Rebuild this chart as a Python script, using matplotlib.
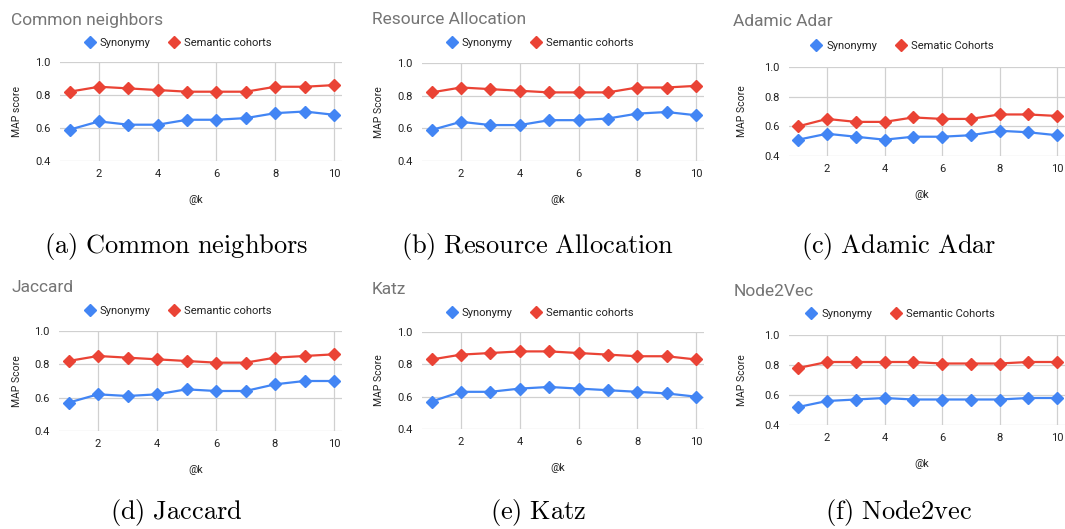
import matplotlib
matplotlib.use("Agg")
import matplotlib.pyplot as plt
from matplotlib.lines import Line2D

plt.rcParams['font.family'] = ['Roboto', 'DejaVu Sans']
plt.rcParams['mathtext.fontset'] = 'cm'

k = [1, 2, 3, 4, 5, 6, 7, 8, 9, 10]

titles = ["Common neighbors", "Resource Allocation", "Adamic Adar",
          "Jaccard", "Katz", "Node2Vec"]
captions = ["(a) Common neighbors", "(b) Resource Allocation", "(c) Adamic Adar",
            "(d) Jaccard", "(e) Katz", "(f) Node2vec"]
ylabels = ["MAP score", "MAP Score", "MAP Score", "MAP Score", "MAP Score", "MAP Score"]
syn_labels = ["Synonymy"] * 6
sem_labels = ["Semantic cohorts", "Semantic cohorts", "Sematic Cohorts",
              "Semantic cohorts", "Semantic cohorts", "Semantic Cohorts"]

syn_cn = [0.59, 0.64, 0.62, 0.62, 0.65, 0.65, 0.66, 0.69, 0.70, 0.68]
sem_cn = [0.82, 0.85, 0.84, 0.83, 0.82, 0.82, 0.82, 0.85, 0.85, 0.86]
syn_ra = [0.59, 0.64, 0.62, 0.62, 0.65, 0.65, 0.66, 0.69, 0.70, 0.68]
sem_ra = [0.82, 0.85, 0.84, 0.83, 0.82, 0.82, 0.82, 0.85, 0.85, 0.86]
syn_aa = [0.51, 0.55, 0.53, 0.51, 0.53, 0.53, 0.54, 0.57, 0.56, 0.54]
sem_aa = [0.60, 0.65, 0.63, 0.63, 0.66, 0.65, 0.65, 0.68, 0.68, 0.67]
syn_jc = [0.57, 0.62, 0.61, 0.62, 0.65, 0.64, 0.64, 0.68, 0.70, 0.70]
sem_jc = [0.82, 0.85, 0.84, 0.83, 0.82, 0.81, 0.81, 0.84, 0.85, 0.86]
syn_kz = [0.57, 0.63, 0.63, 0.65, 0.66, 0.65, 0.64, 0.63, 0.62, 0.60]
sem_kz = [0.83, 0.86, 0.87, 0.88, 0.88, 0.87, 0.86, 0.85, 0.85, 0.83]
syn_nv = [0.52, 0.56, 0.57, 0.58, 0.57, 0.57, 0.57, 0.57, 0.58, 0.58]
sem_nv = [0.78, 0.82, 0.82, 0.82, 0.82, 0.81, 0.81, 0.81, 0.82, 0.82]

syn_all = [syn_cn, syn_ra, syn_aa, syn_jc, syn_kz, syn_nv]
sem_all = [sem_cn, sem_ra, sem_aa, sem_jc, sem_kz, sem_nv]

yticks = [0.4, 0.6, 0.8, 1.0]
xticks = [2, 4, 6, 8, 10]

W, H = 1065, 529
fig = plt.figure(figsize=(W / 100, H / 100), dpi=100)

BLUE = '#4285F4'
RED = '#EA4335'
GRID = '#d0d0d0'
TXT = '#222222'
TITLE = '#757575'

# pixel layout: x of tick 2, x of tick 10, y of 1.0, y of 0.4, title pos, legend centre, caption centre
panels = [
    dict(x2=99, x10=334, yt=62, yb=161, tx=11, ty=20, lx=178, ly=43, cx=176, cy=247, ylx=17),
    dict(x2=461, x10=696, yt=63, yb=161, tx=372, ty=20, lx=540, ly=43, cx=538, cy=247, ylx=379),
    dict(x2=827, x10=1057, yt=67, yb=156, tx=733, ty=21, lx=902, ly=46, cx=899, cy=247, ylx=742),
    dict(x2=98, x10=334, yt=331, yb=431, tx=11, ty=288, lx=178, ly=311, cx=176, cy=512, ylx=17),
    dict(x2=461, x10=696, yt=332, yb=429, tx=372, ty=289, lx=540, ly=313, cx=538, cy=512, ylx=379),
    dict(x2=827, x10=1057, yt=335, yb=425, tx=734, ty=291, lx=900, ly=314, cx=899, cy=512, ylx=742),
]

XL, XR = 0.68, 10.28

for i, p in enumerate(panels):
    u = (p['x10'] - p['x2']) / 8.0
    left = p['x2'] - (2 - XL) * u
    right = p['x10'] + (XR - 10) * u
    ax = fig.add_axes([left / W, 1 - p['yb'] / H, (right - left) / W, (p['yb'] - p['yt']) / H])
    ax.set_xlim(XL, XR)
    ax.set_ylim(0.4, 1.0)
    ax.set_xticks(xticks)
    ax.set_yticks(yticks)
    ax.set_yticklabels([f"{v:.1f}" for v in yticks])
    for s in ax.spines.values():
        s.set_visible(False)
    ax.grid(True, color=GRID, linewidth=0.9)
    ax.set_axisbelow(True)
    ax.tick_params(length=0, labelsize=8, colors=TXT, pad=7)
    ax.tick_params(axis='x', pad=6)
    ax.plot(k, syn_all[i], color=BLUE, lw=1.6, marker='D', ms=6.5, clip_on=False, zorder=3)
    ax.plot(k, sem_all[i], color=RED, lw=1.6, marker='D', ms=6.5, clip_on=False, zorder=3)
    fig.text(p['tx'] / W, 1 - p['ty'] / H, titles[i], fontsize=12.5, color=TITLE,
             ha='left', va='center')
    fig.text(p['ylx'] / W, 1 - (p['yt'] + p['yb']) / 2 / H, ylabels[i], fontsize=7.5,
             color=TXT, rotation=90, ha='center', va='center')
    fig.text((left + right) / 2 / W - 0.005, 1 - (p['yb'] + 39) / H, "@k", fontsize=7.5,
             color=TXT, ha='center', va='center')
    handles = [Line2D([], [], color=BLUE, marker='D', ms=6.5, ls='none'),
               Line2D([], [], color=RED, marker='D', ms=6.5, ls='none')]
    ax.legend(handles, [syn_labels[i], sem_labels[i]], loc='center', ncol=2,
              bbox_to_anchor=(p['lx'] / W, 1 - p['ly'] / H), bbox_transform=fig.transFigure,
              frameon=False, fontsize=8, handlelength=1.0, handletextpad=0.4,
              columnspacing=1.6, labelcolor=TXT)
    fig.text(p['cx'] / W, 1 - p['cy'] / H, r"$\mathrm{" + captions[i].replace(" ", r"\ ") + "}$",
             fontsize=19, color='black', ha='center', va='center')

fig.savefig("out.png", dpi=100)
